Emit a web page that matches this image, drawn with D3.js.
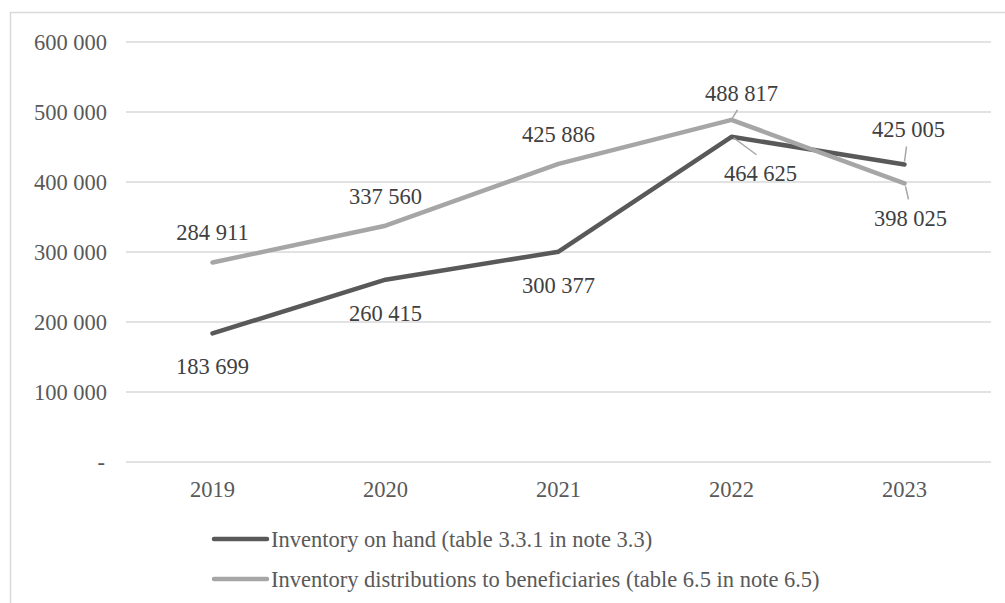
<!DOCTYPE html>
<html><head><meta charset="utf-8">
<script src="https://cdn.jsdelivr.net/npm/d3@7"></script>
<style>body{margin:0;background:#fff}svg{display:block}</style>
</head><body>
<script>
const categories = ["2019","2020","2021","2022","2023"];
const onHand = [183699, 260415, 300377, 464625, 425005];
const distributions = [284911, 337560, 425886, 488817, 398025];
const seriesNames = ["Inventory on hand (table 3.3.1 in note 3.3)", "Inventory distributions to beneficiaries (table 6.5 in note 6.5)"];
const yTicks = [0, 100000, 200000, 300000, 400000, 500000, 600000];

const W = 1005, H = 603;
const font = "Liberation Serif, Times New Roman, serif";
const fs = 22.5;
const txt = "#595959";
const svg = d3.select("body").append("svg").attr("width", W).attr("height", H);

// outer border
svg.append("path").attr("d", `M10.5,${H} V12.5 H${W}`).attr("fill","none").attr("stroke","#d9d9d9").attr("stroke-width",1.5);

const x = d3.scaleBand().domain(categories).range([126, 991]);
const y = d3.scaleLinear().domain([0, 600000]).range([462, 42]);
const fmt = v => v === 0 ? "-" : d3.format(",")(v).replace(/,/g, " ");

// gridlines
svg.append("g").selectAll("line").data(yTicks).join("line")
  .attr("x1", 126).attr("x2", 991).attr("y1", d => y(d)).attr("y2", d => y(d))
  .attr("stroke", "#d9d9d9").attr("stroke-width", 1.5);

// y axis
const yAxis = svg.append("g").attr("transform", "translate(107,0)")
  .call(d3.axisLeft(y).tickValues(yTicks).tickFormat(fmt).tickSize(0).tickPadding(0));
yAxis.select(".domain").remove();
yAxis.selectAll("text").attr("font-family", font).attr("font-size", fs).attr("fill", txt)
  .attr("dy", "0.35em").attr("x", d => d === 0 ? -2 : 0);

// x axis
const xAxis = svg.append("g").attr("transform", "translate(0,462)")
  .call(d3.axisBottom(x).tickSize(0).tickPadding(19));
xAxis.select(".domain").remove();
xAxis.selectAll("text").attr("font-family", font).attr("font-size", fs).attr("fill", txt);

const cx = c => x(c) + x.bandwidth() / 2;
const series = [
  { name: seriesNames[0], values: onHand, color: "#595959", pos: "below" },
  { name: seriesNames[1], values: distributions, color: "#a6a6a6", pos: "above" }
];
const line = d3.line().x((d, i) => cx(categories[i])).y(d => y(d));

series.forEach(s => {
  svg.append("path").datum(s.values).attr("d", line).attr("fill", "none")
    .attr("stroke", s.color).attr("stroke-width", 4.5).attr("stroke-linejoin", "round").attr("stroke-linecap", "round");
});

// label placement (offsets from data point) and leader lines
const special = {
  "0-3": { dx: 29, dy: 36, lead: [[2, 1], [25, 18]] },
  "0-4": { dx: 4, dy: -35, lead: [[0, -3], [2, -18]] },
  "1-3": { dx: 10, dy: -27, lead: [[1, -2], [6, -10]] },
  "1-4": { dx: 6, dy: 35, lead: [[1, 3], [4, 16]] }
};
series.forEach((s, si) => {
  s.values.forEach((v, i) => {
    const px = cx(categories[i]), py = y(v);
    const sp = special[si + "-" + i];
    let dx = 0, dy = s.pos === "above" ? -30 : 33;
    if (sp) {
      dx = sp.dx; dy = sp.dy;
      svg.append("line").attr("x1", px + sp.lead[0][0]).attr("y1", py + sp.lead[0][1])
        .attr("x2", px + sp.lead[1][0]).attr("y2", py + sp.lead[1][1])
        .attr("stroke", "#a6a6a6").attr("stroke-width", 1.5);
    }
    svg.append("text").attr("x", px + dx).attr("y", py + dy).attr("dy", "0.35em")
      .attr("text-anchor", "middle").attr("font-family", font).attr("font-size", fs)
      .attr("fill", "#404040").text(fmt(v));
  });
});

// legend
series.forEach((s, i) => {
  const ly = 539 + i * 40;
  svg.append("line").attr("x1", 214).attr("x2", 267).attr("y1", ly).attr("y2", ly)
    .attr("stroke", s.color).attr("stroke-width", 4.5).attr("stroke-linecap", "round");
  svg.append("text").attr("x", 271).attr("y", ly).attr("dy", "0.35em")
    .attr("font-family", font).attr("font-size", fs).attr("fill", txt).text(s.name);
});
</script>
</body></html>
